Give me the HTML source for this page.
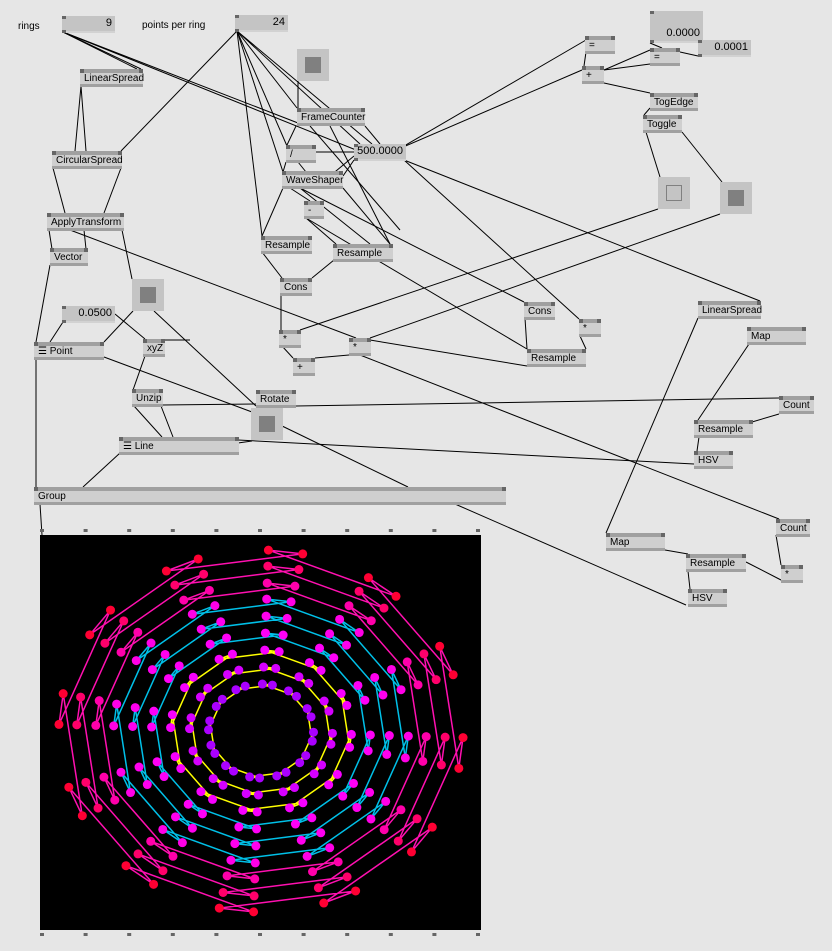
<!DOCTYPE html>
<html><head><meta charset="utf-8"><style>
html,body{margin:0;padding:0}
body{width:832px;height:951px;background:#e6e6e6;position:relative;overflow:hidden;font-family:"Liberation Sans",sans-serif}
.n{position:absolute;height:18px;box-sizing:border-box;background:#cfcfcf;border-top:4px solid #a0a0a0;border-bottom:3px solid #a0a0a0;font-size:10px;line-height:12px;padding-left:4px;color:#000;white-space:nowrap}
.n::before,.n::after{content:"";position:absolute;top:-4px;width:4px;height:4px;background:#666}
.n::before{left:0}.n::after{right:0}
.io{position:absolute;height:17px;box-sizing:border-box;background:#c4c4c4;border-bottom:2px solid #d2d2d2;font-size:11px;text-align:right;padding-right:3px;line-height:15px}
.io::before{content:"";position:absolute;left:0;top:0;width:4px;height:3px;background:#666}
.io::after{content:"";position:absolute;left:0;bottom:-2px;width:4px;height:3px;background:#666}
.sq{position:absolute;width:32px;height:32px;background:#c4c4c4}
.sq i{position:absolute;left:8px;top:8px;width:16px;height:16px;background:#808080}
.sq b{position:absolute;left:8px;top:8px;width:14px;height:14px;border:1px solid #808080}
.lbl{position:absolute;font-size:10px}
svg{position:absolute;left:0;top:0}
</style></head><body>
<svg width="832" height="951">
<g stroke="#000" stroke-width="1" fill="none" id="links"></g>
</svg>
<div class="lbl" style="left:18px;top:21px">rings</div>
<div class="io" style="left:62px;top:16px;width:53px">9</div>
<div class="lbl" style="left:142px;top:20px">points per ring</div>
<div class="io" style="left:235px;top:15px;width:53px">24</div>
<div class="sq" style="left:297px;top:49px"><i></i></div>
<div class="n" style="left:80px;top:69px;width:63px">LinearSpread</div>
<div class="n" style="left:297px;top:108px;width:68px">FrameCounter</div>
<div class="n" style="left:52px;top:151px;width:70px">CircularSpread</div>
<div class="n" style="left:286px;top:145px;width:30px">/</div>
<div class="io" style="left:354px;top:144px;width:52px">500.0000</div>
<div class="n" style="left:282px;top:171px;width:61px">WaveShaper</div>
<div class="n" style="left:47px;top:213px;width:77px">ApplyTransform</div>
<div class="n" style="left:304px;top:201px;width:20px">-</div>
<div class="n" style="left:50px;top:248px;width:38px">Vector</div>
<div class="n" style="left:261px;top:236px;width:51px">Resample</div>
<div class="n" style="left:333px;top:244px;width:60px">Resample</div>
<div class="io" style="left:62px;top:306px;width:53px;color:#000">0.0500</div>
<div class="sq" style="left:132px;top:279px"><i></i></div>
<div class="n" style="left:280px;top:278px;width:32px">Cons</div>
<div class="n" style="left:34px;top:342px;width:70px">☰ Point</div>
<div class="n" style="left:143px;top:339px;width:22px">xyZ</div>
<div class="n" style="left:279px;top:330px;width:22px">*</div>
<div class="n" style="left:349px;top:338px;width:22px">*</div>
<div class="n" style="left:293px;top:358px;width:22px">+</div>
<div class="n" style="left:132px;top:389px;width:31px">Unzip</div>
<div class="n" style="left:256px;top:390px;width:40px">Rotate</div>
<div class="sq" style="left:251px;top:408px"><i></i></div>
<div class="n" style="left:119px;top:437px;width:120px">☰ Line</div>
<div class="n" style="left:34px;top:487px;width:472px">Group</div>
<div class="n" style="left:585px;top:36px;width:30px">=</div>
<div class="n" style="left:582px;top:66px;width:22px">+</div>
<div class="io" style="left:650px;top:11px;width:53px;height:32px;line-height:45px">0.0000</div>
<div class="n" style="left:650px;top:48px;width:30px">=</div>
<div class="io" style="left:698px;top:40px;width:53px">0.0001</div>
<div class="n" style="left:650px;top:93px;width:48px">TogEdge</div>
<div class="n" style="left:643px;top:115px;width:39px">Toggle</div>
<div class="sq" style="left:658px;top:177px"><b></b></div>
<div class="sq" style="left:720px;top:182px"><i></i></div>
<div class="n" style="left:524px;top:302px;width:31px">Cons</div>
<div class="n" style="left:579px;top:319px;width:22px">*</div>
<div class="n" style="left:527px;top:349px;width:59px">Resample</div>
<div class="n" style="left:698px;top:301px;width:63px">LinearSpread</div>
<div class="n" style="left:747px;top:327px;width:59px">Map</div>
<div class="n" style="left:779px;top:396px;width:35px">Count</div>
<div class="n" style="left:694px;top:420px;width:59px">Resample</div>
<div class="n" style="left:694px;top:451px;width:39px">HSV</div>
<div class="n" style="left:776px;top:519px;width:34px">Count</div>
<div class="n" style="left:781px;top:565px;width:22px">*</div>
<div class="n" style="left:606px;top:533px;width:59px">Map</div>
<div class="n" style="left:686px;top:554px;width:60px">Resample</div>
<div class="n" style="left:688px;top:589px;width:39px">HSV</div>
<svg style="left:38px;top:529px" width="446" height="408" id="pins"></svg>
<svg style="left:40px;top:535px" width="441" height="395">
<rect width="441" height="395" fill="#000"/>
<g id="rings"></g>
</svg>
<script>
// rings data
const ringRadii=[47,64,81,98,115,132,148,165,181];
const ringLineColors=["#ffff00","#ffff00","#ffff00","#00c0e8","#00c0e8","#00c0e8","#ff10b0","#ff10b0","#ff10b0"];
const ringDotHues=[280,290,298,302,304,306,320,335,348];
const ringRotationDeg=[-7,-7,-7,-7,-7,-7,-7,-7,-7];
const pairsPerRing=12;
const pairSpreadPx=[9,11,13,16,19,22,25,28,31];
const NS="http://www.w3.org/2000/svg";
const cx=221,cy=196,ax=1.117;
const g=document.getElementById('rings');
ringRadii.forEach((r,ri)=>{
  const pts=[];
  for(let k=0;k<pairsPerRing;k++){
    const th=k*2*Math.PI/pairsPerRing+Math.PI/2+ringRotationDeg[ri]*Math.PI/180;
    const d=pairSpreadPx[ri]/2/r;
    [th+d,th-d].forEach(a=>pts.push([cx+Math.cos(a)*r*ax,cy-Math.sin(a)*r]));
  }
  const pl=document.createElementNS(NS,'polygon');
  
  
  pl.setAttribute('points',pts.map(p=>p[0].toFixed(1)+','+p[1].toFixed(1)).join(' '));
  pl.setAttribute('fill','none');pl.setAttribute('stroke',ringLineColors[ri]);pl.setAttribute('stroke-width','1.5');
  g.appendChild(pl);
  pts.forEach(p=>{
    const c=document.createElementNS(NS,'circle');
    
    
    c.setAttribute('cx',p[0]);c.setAttribute('cy',p[1]);c.setAttribute('r',4.5);
    c.setAttribute('fill','hsl('+ringDotHues[ri]+',100%,50%)');
    g.appendChild(c);
  });
});
const pins=document.getElementById('pins');
for(let i=0;i<11;i++){[0,404].forEach(y=>{const p=document.createElementNS(NS,'rect');


p.setAttribute('x',2+i*43.6);p.setAttribute('y',y);p.setAttribute('width',4);p.setAttribute('height',3);p.setAttribute('fill','#666');pins.appendChild(p);});}
const links=[[63,32,141,69],[63,32,137,69],[63,32,298,123],[63,32,356,150],[237,31,121,151],[237,31,287,146],[237,31,283,172],[237,31,297,108],[237,31,360,144],[237,31,372,144],[237,31,262,236],
[298,81,298,108],[81,86,75,151],[81,86,86,151],[53,168,65,213],[121,168,104,213],[49,230,52,249],[84,230,86,249],[70,230,356,338],[122,230,132,279],[50,265,36,342],
[63,322,50,342],[115,314,145,339],[133,311,104,342],[154,311,256,406],[145,356,133,390],[104,357,252,412],[134,406,162,437],[161,406,173,437],[162,405,256,404],[120,453,83,487],[36,357,36,487],[40,504,42,535],
[238,440,694,464],[238,443,252,441],[280,425,408,487],[296,406,779,398],[296,126,287,145],[310,126,400,230],[330,126,390,244],[365,126,380,144],[316,152,354,152],[286,162,283,172],[298,162,306,172],
[343,176,354,160],[330,176,354,156],[283,188,262,236],[290,188,310,201],[300,188,524,302],[300,188,370,244],[306,218,336,244],[306,218,527,349],[343,188,390,244],[262,252,282,278],[334,260,312,278],[281,294,281,330],[300,330,658,209],[370,338,720,214],[282,346,293,358],[315,358,349,355],[360,355,779,519],[370,340,527,366],[404,160,579,319],[404,160,760,301],[380,160,586,40],[380,157,582,70],[525,318,527,349],[580,336,586,349],[586,52,584,66],[604,70,650,50],[604,70,650,64],[604,83,650,93],[650,43,662,48],[680,52,698,56],[650,108,644,115],[646,132,660,177],[682,132,722,182],[698,318,606,533],[749,344,698,420],[779,414,752,422],[699,437,697,451],[665,550,688,554],[746,562,781,580],[776,535,781,565],[455,504,686,605],[688,571,690,589],[160,340,190,340]];
const lg=document.getElementById('links');
links.forEach(l=>{const e=document.createElementNS(NS,'line');


e.setAttribute('x1',l[0]);e.setAttribute('y1',l[1]);e.setAttribute('x2',l[2]);e.setAttribute('y2',l[3]);lg.appendChild(e);});
</script>
</body></html>
